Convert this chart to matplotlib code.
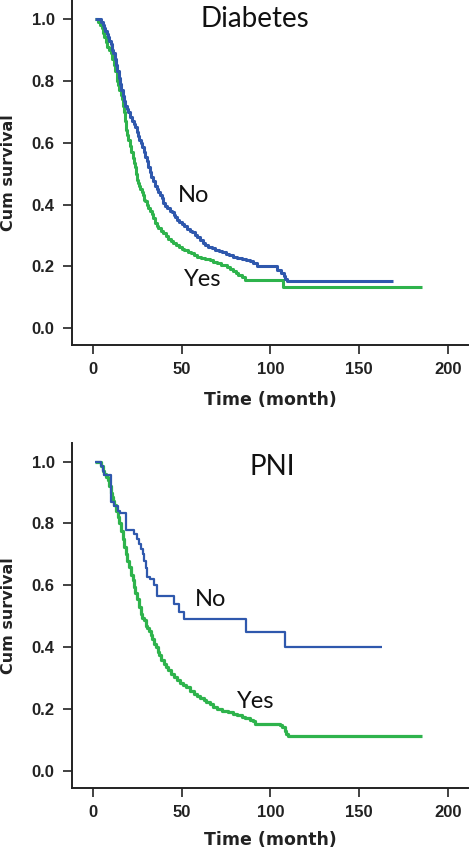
import matplotlib
matplotlib.use("Agg")
import matplotlib.pyplot as plt

# ---- data ----
diab_no_t = [1, 4, 4.8, 5.5, 6.3, 7, 7.8, 8.5, 9.2, 10, 10.8, 11.5, 12.3, 13, 13.8, 14.5, 15.3,
             16, 16.8, 17.5, 18.3, 19.2, 20, 21, 22, 23, 24, 24.8, 25.5, 26.3, 27.2, 28, 28.8,
             29.6, 30.4, 31.3, 32, 33, 34, 35, 36, 37, 38, 38.9, 39.8, 40.8, 42, 43.3, 44.5,
             45.5, 46.5, 47.5, 48.5, 50, 51.5, 53, 54.5, 56, 57.6, 59, 60.5, 62, 63.5, 65, 67,
             69, 71, 73, 75, 77, 79.2, 81.5, 84, 86.5, 88.6, 90.5, 92.5, 104, 106, 107.5,
             108.5, 109.5, 169.4]
diab_no_s = [1.0, 1.0, 0.99, 0.98, 0.97, 0.96, 0.95, 0.94, 0.93, 0.92, 0.90, 0.89, 0.87, 0.85,
             0.83, 0.81, 0.79, 0.77, 0.75, 0.735, 0.72, 0.71, 0.70, 0.684, 0.67, 0.66, 0.65,
             0.635, 0.62, 0.61, 0.60, 0.585, 0.57, 0.555, 0.54, 0.522, 0.505, 0.49, 0.475,
             0.46, 0.45, 0.44, 0.43, 0.42, 0.405, 0.395, 0.39, 0.38, 0.375, 0.365, 0.36, 0.35,
             0.345, 0.338, 0.33, 0.322, 0.316, 0.31, 0.302, 0.295, 0.285, 0.276, 0.27, 0.264,
             0.259, 0.254, 0.25, 0.245, 0.24, 0.236, 0.232, 0.228, 0.225, 0.222, 0.219, 0.21,
             0.2, 0.19, 0.18, 0.17, 0.16, 0.154, 0.154]

diab_yes_t = [1, 3, 4, 5, 5.8, 6.5, 7.3, 8, 9, 10, 11, 11.7, 12.5, 13.5, 14.2, 15, 15.7, 16.3,
              17, 17.5, 18.2, 19, 19.5, 20, 21, 21.7, 22.5, 23.2, 23.8, 24.3, 24.8, 25.5, 26.2,
              26.8, 27.5, 28.2, 29, 29.7, 30.4, 31.2, 32, 33.2, 34, 35, 36, 37, 38.3, 39.8, 41,
              42.5, 44, 45.4, 47, 48.5, 50, 51.5, 53.5, 55.5, 57, 58.6, 61, 63.5, 66, 68, 70,
              72, 75.5, 77.5, 79, 80.5, 82, 84, 85.8, 107.4, 185.3]
diab_yes_s = [1.0, 0.99, 0.98, 0.97, 0.955, 0.94, 0.925, 0.91, 0.90, 0.89, 0.87, 0.85, 0.83,
              0.80, 0.785, 0.77, 0.755, 0.74, 0.72, 0.70, 0.67, 0.64, 0.625, 0.61, 0.59, 0.57,
              0.55, 0.535, 0.52, 0.50, 0.48, 0.47, 0.46, 0.45, 0.44, 0.43, 0.415, 0.41, 0.40,
              0.39, 0.38, 0.37, 0.355, 0.34, 0.332, 0.325, 0.316, 0.307, 0.298, 0.29, 0.282,
              0.275, 0.268, 0.262, 0.257, 0.252, 0.247, 0.242, 0.237, 0.232, 0.228, 0.225, 0.22,
              0.215, 0.21, 0.205, 0.199, 0.192, 0.185, 0.178, 0.172, 0.165, 0.156, 0.133, 0.133]

pni_no_t = [1, 4.6, 5.5, 6.5, 10, 12, 14, 15.5, 18.6, 23.3, 25.2, 26.2, 27, 28.2, 28.9, 30,
            30.8, 32.5, 34.5, 36.4, 45.6, 48.5, 51.3, 86.1, 108.1, 163.1]
pni_no_s = [1.0, 0.985, 0.97, 0.955, 0.87, 0.855, 0.84, 0.835, 0.78, 0.766, 0.75, 0.735, 0.718,
            0.70, 0.68, 0.655, 0.626, 0.62, 0.60, 0.567, 0.54, 0.513, 0.49, 0.449, 0.40, 0.40]

pni_yes_t = [1, 4.6, 5.5, 6.5, 7.5, 8.4, 9.2, 10, 10.6, 11.2, 12, 13, 14, 14.9, 15.8, 16.8,
             17.7, 18.6, 19.5, 20.5, 21.5, 22.4, 23.3, 24, 24.8, 25.8, 27, 28, 28.9, 30, 30.8,
             31.7, 32.6, 33.5, 34.4, 35.4, 36.5, 37.5, 38.7, 40, 41.2, 42.5, 44, 45.7, 47.5,
             49.4, 51, 52.5, 54.5, 56.8, 58.5, 60.5, 62.4, 64, 66, 68, 70, 73, 76, 79.2, 81.5,
             84, 86, 88.6, 90, 91.4, 105.3, 106.5, 108.1, 109, 110, 185.5]
pni_yes_s = [1.0, 0.985, 0.97, 0.96, 0.95, 0.94, 0.92, 0.90, 0.885, 0.874, 0.86, 0.84, 0.82,
             0.80, 0.775, 0.75, 0.725, 0.70, 0.68, 0.66, 0.635, 0.616, 0.595, 0.575, 0.555,
             0.53, 0.508, 0.495, 0.487, 0.47, 0.462, 0.454, 0.44, 0.425, 0.41, 0.40, 0.385,
             0.375, 0.36, 0.347, 0.335, 0.325, 0.315, 0.303, 0.293, 0.285, 0.277, 0.27, 0.26,
             0.25, 0.243, 0.236, 0.228, 0.222, 0.215, 0.207, 0.2, 0.195, 0.19, 0.185, 0.18,
             0.175, 0.17, 0.165, 0.16, 0.153, 0.148, 0.142, 0.13, 0.12, 0.112, 0.112]

x_ticks = [0, 50, 100, 150, 200]
y_ticks = [0.0, 0.2, 0.4, 0.6, 0.8, 1.0]
titles = ["Diabetes", "PNI"]
group_labels = ["No", "Yes"]

BLUE = "#2f58ad"
GREEN = "#2eb34c"

fig = plt.figure(figsize=(4.72, 8.52), dpi=100)

W, H = 472.0, 852.0
ax1 = fig.add_axes([72 / W, 1 - 345 / H, (468 - 72) / W, 345 / H])
ax2 = fig.add_axes([72 / W, 1 - 787.7 / H, (468 - 72) / W, (787.7 - 442.7) / H])

panels = [
    (ax1, diab_no_t, diab_no_s, diab_yes_t, diab_yes_s, titles[0],
     (178, 195), (184, 279), 255, 19, 2.2, 2.2, 400),
    (ax2, pni_no_t, pni_no_s, pni_yes_t, pni_yes_s, titles[1],
     (195, 600), (237, 701), 272, 466.7, 1.6, 2.3, 840),
]

label_font = ["Liberation Sans", "DejaVu Sans"]
txt_font = ["Lato", "Open Sans", "DejaVu Sans"]

for (ax, nt, ns, yt, ys, title, no_pos, yes_pos, tx, ty,
     lw_no, lw_yes, xlab_y) in panels:
    ax.plot(yt, ys, drawstyle="steps-post", color=GREEN, lw=lw_yes, solid_capstyle="butt")
    ax.plot(nt, ns, drawstyle="steps-post", color=BLUE, lw=lw_no, solid_capstyle="butt")
    ax.set_xlim(-11.7, 211.4)
    ax.set_ylim(-0.054, 1.061)
    ax.set_xticks(x_ticks)
    ax.set_yticks(y_ticks)
    ax.set_xticklabels([str(v) for v in x_ticks])
    ax.set_yticklabels([f"{v:.1f}" for v in y_ticks])
    for s in ["top", "right"]:
        ax.spines[s].set_visible(False)
    for s in ["left", "bottom"]:
        ax.spines[s].set_linewidth(1.4)
        ax.spines[s].set_color("#222222")
    ax.tick_params(direction="out", length=6.5, width=1.2, color="#222222", pad=6.0,
                   labelsize=12, labelcolor="#222222")
    for lab in ax.get_xticklabels() + ax.get_yticklabels():
        lab.set_fontweight("bold")
        lab.set_family(label_font)
    ax.set_xlabel("Time (month)", fontsize=12.5, fontweight="bold", color="#222222",
                  family=["DejaVu Sans"])
    ax.set_ylabel("Cum survival", fontsize=11.5, fontweight="bold", color="#222222",
                  family=["DejaVu Sans"])
    bbox = ax.get_position()
    axh = bbox.height * H
    axw = bbox.width * W
    bottom_px = (1 - bbox.y0) * H
    ax.xaxis.set_label_coords(0.5, -(xlab_y - bottom_px) / axh)
    ax.xaxis.label.set_verticalalignment("center")
    ax.yaxis.set_label_coords((9 - 72) / axw, 0.5)
    ax.yaxis.label.set_verticalalignment("center")

    fig.text(tx / W, 1 - ty / H, title, fontsize=20, family=txt_font, color="#111111",
             ha="center", va="center")
    fig.text(no_pos[0] / W, 1 - no_pos[1] / H, group_labels[0], fontsize=17,
             family=txt_font, color="#111111", ha="left", va="center")
    fig.text(yes_pos[0] / W, 1 - yes_pos[1] / H, group_labels[1], fontsize=17,
             family=txt_font, color="#111111", ha="left", va="center")

fig.savefig("out.png", dpi=100)
